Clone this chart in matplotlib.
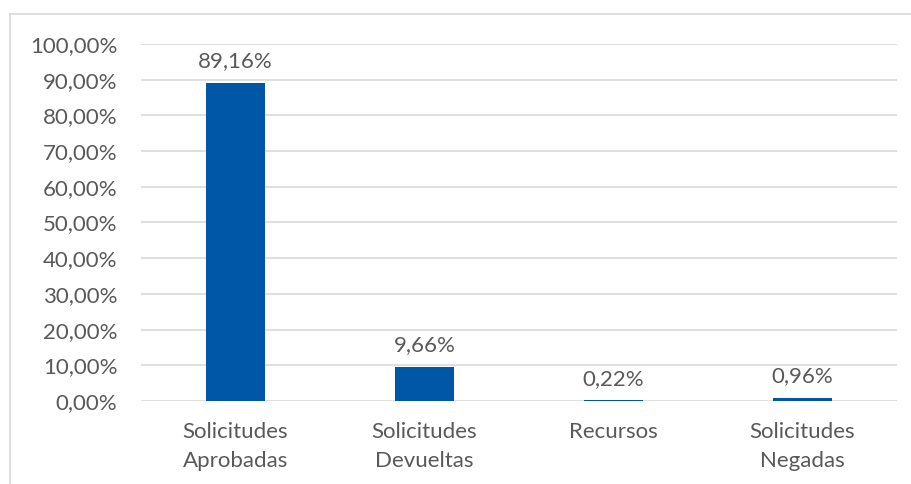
import matplotlib
matplotlib.use("Agg")
import matplotlib.pyplot as plt
from matplotlib.lines import Line2D
from matplotlib.ticker import FuncFormatter

categories = ["Solicitudes\nAprobadas", "Solicitudes\nDevueltas", "Recursos", "Solicitudes\nNegadas"]
values = [89.16, 9.66, 0.22, 0.96]
yticks = [0, 10, 20, 30, 40, 50, 60, 70, 80, 90, 100]

W, H = 912, 484
plt.rcParams["font.family"] = ["Lato", "DejaVu Sans"]
text_color = "#595959"
bar_color = "#0057A8"
fs = 16

fig = plt.figure(figsize=(W / 100, H / 100), dpi=100)
ax = fig.add_axes([141 / W, 1 - 401 / H, (897 - 141) / W, (401 - 44) / H])

x = range(len(categories))
bars = ax.bar(x, values, width=0.31, color=bar_color, zorder=3)

for xi, v in zip(x, values):
    ax.annotate(f"{v:.2f}%".replace(".", ","), (xi, v), xytext=(0, 8),
                textcoords="offset points", ha="center", va="bottom",
                fontsize=fs, color=text_color)

ax.set_xlim(-0.5, len(categories) - 0.5)
ax.set_ylim(0, 100)
ax.set_yticks(yticks)
ax.yaxis.set_major_formatter(FuncFormatter(lambda v, p: f"{v:.2f}%".replace(".", ",")))
ax.set_xticks(list(x))
ax.set_xticklabels(categories)
ax.grid(axis="y", color="#D9D9D9", linewidth=1.2, zorder=0)
for s in ax.spines.values():
    s.set_visible(False)
ax.tick_params(axis="both", length=0, labelsize=fs, colors=text_color)
ax.tick_params(axis="y", pad=17)
ax.tick_params(axis="x", pad=15)
for lbl in ax.get_xticklabels():
    lbl.set_linespacing(1.6)

# outer chart frame
fig.add_artist(Line2D([10 / W, 10 / W], [0, 1 - 14 / H], color="#D9D9D9", linewidth=1.2,
                      transform=fig.transFigure))
fig.add_artist(Line2D([10 / W, 1], [1 - 14 / H, 1 - 14 / H], color="#D9D9D9", linewidth=1.2,
                      transform=fig.transFigure))

fig.savefig("out.png", dpi=100, facecolor="white")
